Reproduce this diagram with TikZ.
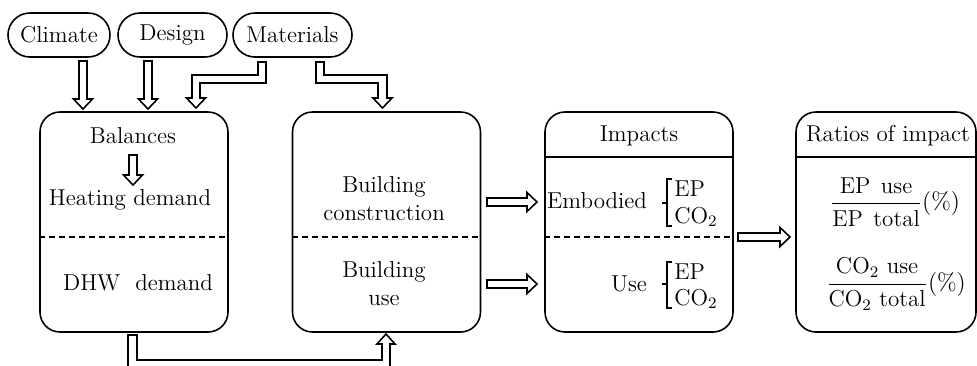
\documentclass[tikz,border=0pt]{standalone}
\usepackage{amsmath}
\usetikzlibrary{calc}
% fat hollow arrows (pixel coordinates)
\newcommand\fatdown[3]{\draw[fatline] (#1-4,#2) -- (#1-4,#3-10) -- (#1-9.5,#3-10) -- (#1,#3) -- (#1+9.5,#3-10) -- (#1+4,#3-10) -- (#1+4,#2) -- cycle;}
\newcommand\fatright[3]{\draw[fatline] (#2,#1-4) -- (#3-10,#1-4) -- (#3-10,#1-9.5) -- (#3,#1) -- (#3-10,#1+9.5) -- (#3-10,#1+4) -- (#2,#1+4) -- cycle;}
\newcommand\widesp{\ \hspace{1.5pt}}
\tikzset{
  oval/.style={draw, line width=0.8pt, rounded corners=11pt, minimum height=22pt, inner sep=0pt},
  bigbox/.style={draw, line width=0.8pt, rounded corners=10pt, minimum width=94pt, minimum height=110pt},
  fatline/.style={draw, line width=0.8pt, fill=white, line join=miter},
  divider/.style={line width=0.8pt, dash pattern=on 3pt off 2pt},
  sepline/.style={line width=0.8pt},
  brk/.style={line width=0.6pt},
  sub/.style={anchor=west, inner sep=0pt},
}
\begin{document}
\begin{tikzpicture}[x=0.5pt, y=-0.5pt, font=\fontsize{11.5}{14}\selectfont]
\useasboundingbox (0,0) rectangle (977,365);
\clip (0,0) rectangle (977,365);
% inputs
\node[oval, minimum width=51pt] (climate) at (59,35) {Climate};
\node[oval, minimum width=54.5pt] (design) at (172.5,35) {Design};
\node[oval, minimum width=59.5pt] (materials) at (292.5,35) {Materials};
% boxes
\node[bigbox] (b1) at (134,222) {};
\node[bigbox] (b2) at (386.5,222) {};
\node[bigbox] (b3) at (639,222) {};
\node[bigbox, minimum width=90pt] (b4) at (886,222) {};
% header and divider lines
\draw[sepline] (b3.west |- 0,157) -- (b3.east |- 0,157);
\draw[sepline] (b4.west |- 0,157) -- (b4.east |- 0,157);
\draw[divider] (b1.west |- 0,237) -- (b1.east |- 0,237);
\draw[divider] (b2.west |- 0,237) -- (b2.east |- 0,237);
\draw[divider] (b3.west |- 0,237) -- (b3.east |- 0,237);
% box 1
\node (bal) at (133,136) {Balances};
\node (heat) at (130,200) {Heating demand};
\node (dhw) at (138,283) {DHW\ \ demand};
\fatdown{133}{155}{185}
% box 2
\node[align=center] (bc) at (384,199) {Building\\construction};
\node[align=center] (bu) at (384,284) {Building\\use};
% box 3
\node (imp) at (639,136) {Impacts};
\node[anchor=east] (emb) at (654,201) {Embodied};
\draw[brk] (672,179) -- (667,179) -- (667,226) -- (672,226) (662,203) -- (667,203);
\node[sub] (ep1) at (674,189) {EP};
\node[sub] (co1) at (674,217) {CO$_2$};
\node[anchor=east] (use) at (654,284) {Use};
\draw[brk] (672,262) -- (667,262) -- (667,308) -- (672,308) (662,284) -- (667,284);
\node[sub] (ep2) at (674,272) {EP};
\node[sub] (co2) at (674,299) {CO$_2$};
% box 4
\node (rat) at (888,136) {Ratios of impact};
\node (f1) at (895,202) {$\dfrac{\text{EP\widesp use}}{\text{EP\widesp total}}(\%)$};
\node (f2) at (896,284) {$\dfrac{\text{CO$_2$\ use}}{\text{CO$_2$\ total}}(\%)$};
% arrows
\fatdown{83}{61}{109}
\fatdown{148}{61}{109}
\draw[fatline] (258,62) -- (266,62) -- (266,83) -- (200,83) -- (200,98) -- (205.5,98) -- (196,108) -- (186.5,98) -- (192,98) -- (192,75) -- (258,75) -- cycle;
\draw[fatline] (316,62) -- (324,62) -- (324,75) -- (387,75) -- (387,98) -- (392,98) -- (382.5,108) -- (373,98) -- (378,98) -- (378,83) -- (316,83) -- cycle;
\fatright{202}{487}{537}
\fatright{284}{487}{537}
\fatright{237}{738}{790}
\draw[fatline] (128,335) -- (137,335) -- (137,360) -- (382,360) -- (382,344) -- (377,344) -- (386,334) -- (395,344) -- (390,344) -- (390,372) -- (128,372) -- cycle;
\end{tikzpicture}
\end{document}
